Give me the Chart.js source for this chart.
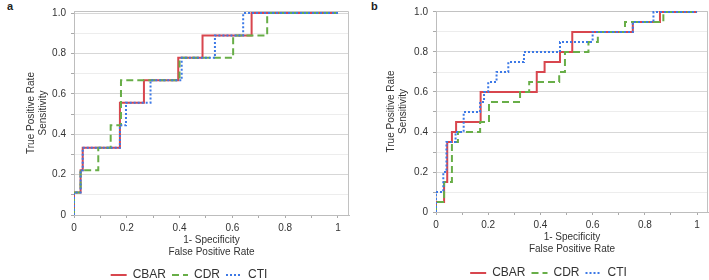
<!DOCTYPE html>
<html>
<head>
<meta charset="utf-8">
<script src="https://cdn.jsdelivr.net/npm/chart.js@4"></script>
<style>
  body { margin: 0; width: 709px; height: 280px; background: #fff; position: relative; overflow: hidden; }
  canvas { position: absolute; top: 0; }
  #chartA { left: 0; }
  #chartB { left: 355px; }
  .tag { position: absolute; font: bold 11px "Liberation Sans", Arial, sans-serif; color: #222; }
</style>
</head>
<body>
<div class="tag" style="left:7px;top:0px">a</div>
<div class="tag" style="left:371px;top:0px">b</div>
<canvas id="chartA" width="355" height="280"></canvas>
<canvas id="chartB" width="354" height="280"></canvas>
<script>
// ROC points (1-specificity, sensitivity)
// panel a
const aCbarFpr = [0, 0, 0.025, 0.033, 0.174, 0.265, 0.395, 0.487, 0.673, 1];
const aCbarTpr = [0, 0.111, 0.222, 0.333, 0.556, 0.667, 0.778, 0.889, 1, 1];
const aCdrFpr = [0, 0, 0.025, 0.092, 0.139, 0.178, 0.4, 0.603, 0.732, 1];
const aCdrTpr = [0, 0.111, 0.222, 0.333, 0.444, 0.667, 0.778, 0.889, 1, 1];
const aCtiFpr = [0, 0, 0.025, 0.033, 0.174, 0.197, 0.29, 0.408, 0.534, 0.641, 1];
const aCtiTpr = [0, 0.111, 0.222, 0.333, 0.444, 0.556, 0.667, 0.778, 0.889, 1, 1];
// panel b
const bCbarFpr = [0, 0, 0.031, 0.043, 0.061, 0.077, 0.171, 0.386, 0.416, 0.475, 0.522, 0.754, 0.858, 1];
const bCbarTpr = [0, 0.05, 0.15, 0.35, 0.4, 0.45, 0.6, 0.7, 0.75, 0.8, 0.9, 0.95, 1, 1];
const bCdrFpr = [0, 0, 0.031, 0.061, 0.084, 0.169, 0.203, 0.322, 0.357, 0.472, 0.494, 0.584, 0.62, 0.724, 0.871, 1];
const bCdrTpr = [0, 0.05, 0.15, 0.35, 0.4, 0.45, 0.55, 0.6, 0.65, 0.7, 0.8, 0.85, 0.9, 0.95, 1, 1];
const bCtiFpr = [0, 0, 0.028, 0.04, 0.075, 0.106, 0.169, 0.184, 0.2, 0.232, 0.277, 0.337, 0.475, 0.6, 0.754, 0.833, 1];
const bCtiTpr = [0, 0.1, 0.2, 0.35, 0.4, 0.5, 0.55, 0.6, 0.65, 0.7, 0.75, 0.8, 0.85, 0.9, 0.95, 1, 1];

const seriesNames = ["CBAR", "CDR", "CTI"];
const xTitle = ["1- Specificity", "False Positive Rate"];
const yTitle = ["True Positive Rate", "Sensitivity"];

const colors = ["#d8464e", "#68ae48", "#3d79e6"];
const dashes = [[], [7, 4], [2, 2]];
const TXT = "#333";
const FONT = '"Liberation Sans", Arial, sans-serif';

function tickText(v, isX) {
  const k = Math.round(v * 10);
  if (k % 2) return "";
  if (k === 0) return "0";
  if (isX && k === 10) return "1";
  return (k / 10).toFixed(1);
}

// light frame on top and right of the plot
const frame = {
  id: "frame",
  beforeDatasetsDraw(chart) {
    const { ctx, chartArea: a } = chart;
    ctx.save();
    ctx.strokeStyle = "#c2c2c2";
    ctx.lineWidth = 1;
    ctx.beginPath();
    ctx.moveTo(a.left, a.top + 0.5);
    ctx.lineTo(a.right - 0.5, a.top + 0.5);
    ctx.lineTo(a.right - 0.5, a.bottom);
    ctx.stroke();
    ctx.restore();
  },
};

// small sideways shift of the legend
const nudge = {
  id: "nudge",
  afterLayout(chart, args, opts) {
    const lg = chart.legend;
    if (!lg) return;
    lg.left += opts.dx;
    lg.right += opts.dx;
  },
};

function build(id, fprs, tprs, lay) {
  return new Chart(document.getElementById(id), {
    type: "line",
    data: {
      datasets: seriesNames.map((name, i) => ({
        label: name,
        data: fprs[i].map((x, j) => ({ x: x, y: tprs[i][j] })),
        borderColor: colors[i],
        backgroundColor: colors[i],
        borderWidth: 2,
        borderDash: dashes[i],
        stepped: "before",
        pointRadius: 0,
        fill: false,
        order: 2 - i,
      })),
    },
    options: {
      responsive: false,
      animation: false,
      devicePixelRatio: 1,
      layout: { padding: lay.padding },
      scales: {
        x: {
          type: "linear",
          min: 0,
          max: 1.042,
          afterFit: (s) => { s.height = lay.xh; },
          border: { color: "#bdbdbd" },
          grid: { drawOnChartArea: false, tickLength: 3, tickColor: "#aaa" },
          ticks: {
            stepSize: 0.1, includeBounds: false, autoSkip: false, maxRotation: 0,
            padding: 4, color: TXT, font: { family: FONT, size: 10 },
            callback: (v) => tickText(v, true),
          },
          title: {
            display: true, text: xTitle, color: TXT,
            font: { family: FONT, size: 10, lineHeight: 1.2 },
            padding: { top: 0, bottom: lay.xtp },
          },
        },
        y: {
          min: 0,
          max: lay.ymax,
          afterFit: (s) => { s.width = lay.yw; },
          border: { color: "#bdbdbd" },
          grid: {
            tickLength: 3,
            tickColor: "#aaa",
            color: (c) => (c.tick && Math.round(c.tick.value * 10) % 2 === 0 ? "#d7d7d7" : "#ededed"),
          },
          ticks: {
            stepSize: 0.1, includeBounds: false, autoSkip: false,
            padding: 5, color: TXT, font: { family: FONT, size: 10 },
            callback: (v) => tickText(v, false),
          },
          title: {
            display: true, text: yTitle, color: TXT,
            font: { family: FONT, size: 10, lineHeight: 1.2 },
            padding: { top: 0, bottom: 0 },
          },
        },
      },
      plugins: {
        legend: {
          position: "bottom",
          labels: {
            usePointStyle: true,
            pointStyleWidth: 16,
            padding: 6,
            color: TXT,
            font: { family: FONT, size: 12 },
            generateLabels: (chart) =>
              chart.data.datasets.map((d, i) => ({
                text: d.label,
                strokeStyle: d.borderColor,
                fillStyle: d.borderColor,
                fontColor: TXT,
                lineWidth: 2,
                lineDash: d.borderDash,
                pointStyle: "line",
                hidden: false,
                datasetIndex: i,
              })),
          },
        },
        tooltip: { enabled: false },
        nudge: { dx: lay.dx },
      },
    },
    plugins: [frame, nudge],
  });
}

build("chartA", [aCbarFpr, aCdrFpr, aCtiFpr], [aCbarTpr, aCdrTpr, aCtiTpr], {
  padding: { left: 25, right: 6, top: 9, bottom: -11 },
  xh: 48, xtp: 5, yw: 49, ymax: 1.01, dx: 2,
});

build("chartB", [bCbarFpr, bCdrFpr, bCtiFpr], [bCbarTpr, bCdrTpr, bCtiTpr], {
  padding: { left: 30, right: 1, top: 9, bottom: -9 },
  xh: 49, xtp: 6, yw: 51, ymax: 1.005, dx: 2,
});
</script>
</body>
</html>
